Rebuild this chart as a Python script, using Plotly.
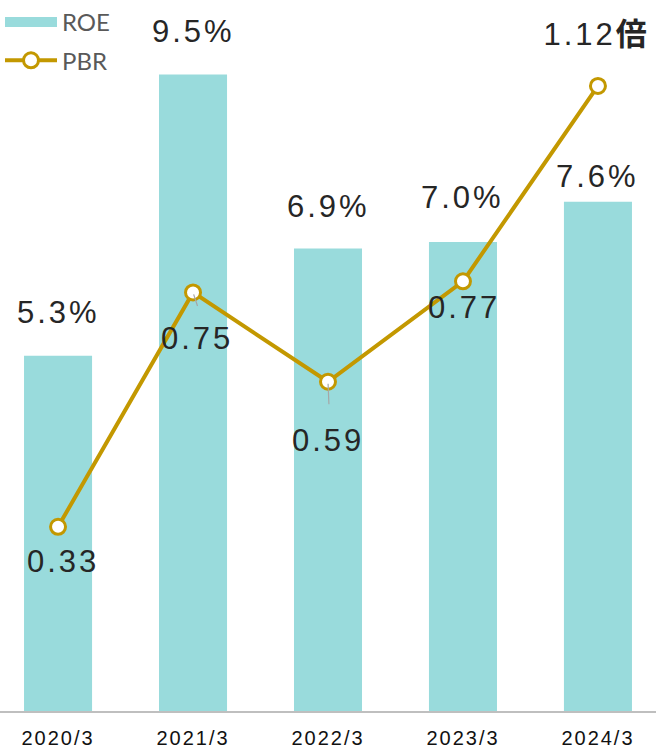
import plotly.graph_objects as go

categories = ["2020/3", "2021/3", "2022/3", "2023/3", "2024/3"]
roe = [5.3, 9.5, 6.9, 7.0, 7.6]
pbr = [0.33, 0.75, 0.59, 0.77, 1.12]
roe_labels = ["5.3%", "9.5%", "6.9%", "7.0%", "7.6%"]
pbr_labels = ["0.33", "0.75", "0.59", "0.77", "1.12<b>倍</b>"]

# label offsets (pixels) - styling only
roe_yshift = [43, 43, 42, 44, 25]
pbr_xshift = [5, 4, 0, 1, -1]
pbr_yshift = [-35, -46, -59, -26, 51]
# leader line offsets (pixels) for labels that have one
leader = {1: (5, 15), 2: (1, 24)}

BAR = "#99DBDC"
LINE = "#C39800"
FONT = "Liberation Sans, Arial, Noto Sans CJK JP, sans-serif"

fig = go.Figure()
fig.add_trace(go.Bar(x=categories, y=roe, name="ROE", marker=dict(color=BAR, line=dict(width=0)),
                     yaxis="y", showlegend=False))
# legend entry for ROE drawn as a wide swatch
fig.add_trace(go.Scatter(x=[None], y=[None], name="ROE", mode="lines",
                         line=dict(color=BAR, width=17), legendgroup="a", yaxis="y"))
fig.add_trace(go.Scatter(x=categories, y=pbr, name="PBR", mode="lines+markers",
                         line=dict(color=LINE, width=4), legendgroup="b",
                         marker=dict(size=15, color="white", line=dict(color=LINE, width=3)),
                         yaxis="y2"))

annotations = []
for c, v, t, ys in zip(categories, roe, roe_labels, roe_yshift):
    annotations.append(dict(x=c, y=v, xref="x", yref="y", text=t, showarrow=False,
                            yshift=ys, font=dict(size=31, color="#262626", family=FONT)))
for i, (c, v) in enumerate(zip(categories, pbr)):
    if i in leader:
        ax, ay = leader[i]
        annotations.append(dict(x=c, y=v, xref="x", yref="y2", text="", showarrow=True,
                                ax=ax, ay=ay, arrowhead=0, arrowwidth=1.2,
                                arrowcolor="#A6A6A6", standoff=2))
for c, v, t, xs, ys in zip(categories, pbr, pbr_labels, pbr_xshift, pbr_yshift):
    annotations.append(dict(x=c, y=v, xref="x", yref="y2", text=t, showarrow=False,
                            xshift=xs, yshift=ys, font=dict(size=31, color="#262626", family=FONT)))

fig.update_layout(
    width=656, height=750,
    margin=dict(l=0, r=0, t=0, b=39),
    paper_bgcolor="white", plot_bgcolor="white",
    bargap=0.496,
    showlegend=True,
    legend=dict(x=0, y=1, xanchor="left", yanchor="top", bgcolor="rgba(0,0,0,0)",
                font=dict(size=24, color="#595959", family="Lato, Liberation Sans, sans-serif"),
                itemwidth=52, tracegroupgap=4, traceorder="grouped"),
    xaxis=dict(range=[-0.43, 4.43], showline=True, linecolor="#BFBFBF", linewidth=1.5,
               showgrid=False, zeroline=False, ticks="", ticklabelstandoff=8,
               tickfont=dict(size=20, color="#111111", family=FONT)),
    yaxis=dict(range=[0, 10.61], visible=False, showgrid=False, zeroline=False),
    yaxis2=dict(range=[0, 1.274], overlaying="y", visible=False, showgrid=False, zeroline=False),
    annotations=annotations,
)

post = """
var s = document.createElement('style');
s.textContent = 'body{margin:0;} .annotation-text{letter-spacing:3px;} .xtick text{letter-spacing:2px;}';
document.head.appendChild(s);
"""
fig.write_html("out.html", post_script=post, config={"displayModeBar": False})
